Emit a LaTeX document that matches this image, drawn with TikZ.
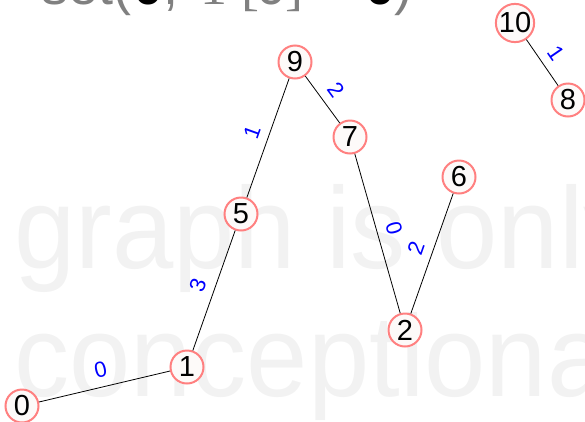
\documentclass[tikz,border=0pt]{standalone}
\usepackage{fontspec}
\setmainfont{Liberation Sans}
\newfontfamily\serifpart{Liberation Serif}
\definecolor{ringred}{RGB}{255,128,128}
\definecolor{ringfill}{RGB}{253,250,249}
\definecolor{markgray}{RGB}{242,242,242}
\definecolor{topgray}{RGB}{128,128,128}
\begin{document}
\begin{tikzpicture}[
                x=1pt, y=-1pt,
                vertex/.style={circle,draw=ringred,fill=ringfill,line width=2pt,
                        minimum size=33pt,inner sep=0pt,font=\fontsize{29}{29}\selectfont},
                weight/.style={midway,above=9pt,sloped,inner sep=0pt,text=blue,
                        font=\fontsize{22}{22}\selectfont},
                watermark/.style={anchor=base west,inner sep=0pt,text=markgray,
                        font=\fontsize{116}{116}\selectfont},
                titlepart/.style={anchor=base west,inner sep=0pt,text=topgray,
                        font=\fontsize{54}{54}\selectfont},
                edge/.style={draw=black,line width=0.8pt}
            ]

            \useasboundingbox (0,0) rectangle (585,421);
            \clip (0,0) rectangle (585,421);

            % background text
            \node[watermark] (mark1) at (14,268) {\scalebox{0.95}[1]{graph is only}};
            \node[watermark] (mark2) at (14,396) {\scalebox{0.95}[1]{conceptional}};

            % caption, mostly above the page
            \node[titlepart] (t1) at (41,4) {set(};
            \node[titlepart,text=black,font=\fontsize{54}{54}\selectfont\bfseries] (t2) at (133,4) {0};
            \node[titlepart] (t3) at (163,4) {,};
            \node[titlepart,font=\fontsize{54}{54}\selectfont\serifpart] (t4) at (200,4) {1};
            \node[titlepart,font=\fontsize{54}{54}\selectfont\serifpart] (t5) at (241,4) {[};
            \node[titlepart] (t6) at (256,4) {0};
            \node[titlepart,font=\fontsize{54}{54}\selectfont\serifpart] (t7) at (285,4) {]};
            \node[titlepart] (t8) at (315,4) {=};
            \node[titlepart,text=black,font=\fontsize{54}{54}\selectfont\bfseries] (t9) at (365,4) {0};
            \node[titlepart] (t10) at (394,4) {)};

            % vertices
            \node[vertex] (n0) at (22,406) {0};
            \node[vertex] (n1) at (187,367) {1};
            \node[vertex] (n5) at (241,214) {5};
            \node[vertex] (n9) at (295,62) {9};
            \node[vertex] (n7) at (350,137) {7};
            \node[vertex] (n2) at (405,330) {2};
            \node[vertex] (n6) at (459,177) {6};
            \node[vertex] (n10) at (515,23) {10};
            \node[vertex] (n8) at (568,100) {8};

            % edges
            \draw[edge] (n0) -- node[weight] {0} (n1);
            \draw[edge] (n1) -- node[weight] {3} (n5);
            \draw[edge] (n5) -- node[weight] {1} (n9);
            \draw[edge] (n9) -- node[weight] {2} (n7);
            \draw[edge] (n7) -- node[weight] {0} (n2);
            \draw[edge] (n2) -- node[weight] {2} (n6);
            \draw[edge] (n10) -- node[weight] {1} (n8);

        \end{tikzpicture}
\end{document}
